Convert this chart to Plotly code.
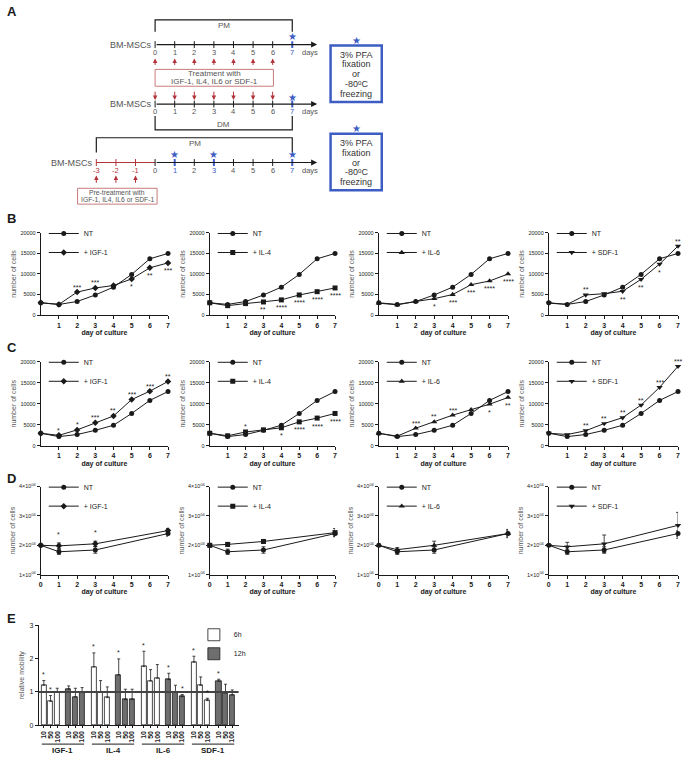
import plotly.graph_objects as go

# ---------------- data ----------------
days = [0, 1, 2, 3, 4, 5, 6, 7]
days_D = [0, 1, 3, 7]
treatments = ["IGF-1", "IL-4", "IL-6", "SDF-1"]
treat_symbols = ["diamond", "square", "triangle-up", "triangle-down"]

# Panel B (proliferation medium)
B_NT = [3000, 2600, 3300, 4900, 6800, 9900, 13700, 15000]
B_IGF1 = [3000, 2600, 5600, 6600, 7200, 8800, 11500, 12700]
B_IL4 = [3000, 2300, 2800, 3200, 3700, 4900, 5700, 6600]
B_IL6 = [2900, 2500, 3300, 4000, 5000, 7400, 8300, 10000]
B_SDF1 = [2900, 2600, 4900, 5200, 5800, 8700, 12400, 16800]
B_stars = [
    [(2, "***", "a"), (3, "***", "a"), (5, "*", "b"), (6, "**", "b"), (7, "***", "b")],
    [(3, "**", "b"), (4, "****", "b"), (5, "****", "b"), (6, "****", "b"), (7, "****", "b")],
    [(3, "*", "b"), (4, "***", "b"), (5, "***", "b"), (6, "****", "b"), (7, "****", "b")],
    [(2, "**", "a"), (4, "**", "b"), (5, "**", "b"), (6, "*", "b"), (7, "**", "a")],
]

# Panel C (differentiation medium)
C_NT = [3000, 2200, 2700, 3700, 4900, 7700, 10800, 12900]
C_IGF1 = [3000, 2500, 3800, 5500, 7100, 11000, 13000, 15300]
C_IL4 = [3000, 2400, 3300, 3800, 4300, 5700, 6600, 7700]
C_IL6 = [3000, 2300, 4200, 5700, 7300, 8600, 9900, 11500]
C_SDF1 = [3000, 2700, 3600, 5300, 6700, 9700, 13900, 18900]
C_stars = [
    [(1, "*", "a"), (2, "*", "a"), (3, "***", "a"), (4, "**", "a"), (5, "***", "a"), (6, "***", "a"), (7, "**", "a")],
    [(2, "*", "a"), (4, "*", "b"), (5, "****", "b"), (6, "****", "b"), (7, "****", "b")],
    [(2, "***", "a"), (3, "**", "a"), (4, "***", "a"), (6, "*", "b"), (7, "**", "b")],
    [(2, "**", "a"), (3, "**", "a"), (4, "**", "a"), (5, "**", "a"), (6, "***", "a"), (7, "***", "a")],
]
BC_ticks = [0, 5000, 10000, 15000, 20000]
BC_ticktext = ["0", "5000", "10000", "15000", "20000"]

# Panel D (pre-treatment)
D_NT = [20000, 17800, 18400, 24000]
D_NT_err = [300, 900, 1100, 900]
D_IGF1 = [20000, 19800, 20500, 25000]
D_IGF1_err = [300, 1000, 900, 700]
D_IL4 = [20000, 20300, 21300, 24300]
D_IL4_err = [300, 600, 500, 1400]
D_IL6 = [20000, 18500, 20000, 24000]
D_IL6_err = [300, 700, 1400, 1400]
D_SDF1 = [20000, 19500, 20500, 26800]
D_SDF1_err = [300, 1500, 3000, 4400]
D_stars = [[(1, "*", "a"), (3, "*", "a")], [], [], []]
D_ticks = [10000, 20000, 30000, 40000]
D_ticktext = ["1×10<sup>04</sup>", "2×10<sup>04</sup>", "3×10<sup>04</sup>", "4×10<sup>04</sup>"]

# Panel E (relative mobility)
doses = ["10", "50", "100"]
E_6h = [[1.20, 0.72, 0.99], [1.75, 0.99, 0.83], [1.76, 1.33, 1.41], [1.89, 1.20, 0.74]]
E_6h_err = [[0.14, 0.17, 0.12], [0.42, 0.35, 0.32], [0.46, 0.34, 0.41], [0.18, 0.25, 0.07]]
E_12h = [[1.09, 0.85, 0.99], [1.51, 0.77, 0.77], [1.37, 0.99, 0.86], [1.32, 0.97, 0.91]]
E_12h_err = [[0.09, 0.26, 0.14], [0.48, 0.31, 0.31], [0.19, 0.21, 0.06], [0.06, 0.26, 0.15]]
E_6h_stars = [["*", "*", ""], ["*", "", ""], ["*", "", ""], ["*", "", "*"]]
E_12h_stars = [["", "", ""], ["*", "", ""], ["*", "", "*"], ["*", "", ""]]

# Panel A schematic
A_days = [0, 1, 2, 3, 4, 5, 6, 7]
A_treat_days = [0, 1, 2, 3, 4, 5, 6]
A_pre_days = [-3, -2, -1]
A_sample_days = [1, 3, 7]
A_box_lines = ["3% PFA", "fixation", "or", "-80ᵒC", "freezing"]

# ---------------- helpers ----------------
W, H = 685, 758
FONT = "Arial, Liberation Sans, sans-serif"
INK = "#1a1a1a"
GREY = "#555555"
BLUE = "#3d5cc4"
RED = "#b3333a"
RED_L = "#c97b7b"


def fx(px):
    return px / W


def fy(px):
    return 1 - px / H


fig = go.Figure()
annotations = []
shapes = []
layout = {}

col_px = [(39, 167), (209, 335), (379, 509), (550, 680)]
row_px = [(231, 314), (361, 446), (487, 576)]

rows = [
    (B_NT, [B_IGF1, B_IL4, B_IL6, B_SDF1], None, None, B_stars),
    (C_NT, [C_IGF1, C_IL4, C_IL6, C_SDF1], None, None, C_stars),
    (D_NT, [D_IGF1, D_IL4, D_IL6, D_SDF1], D_NT_err, [D_IGF1_err, D_IL4_err, D_IL6_err, D_SDF1_err], D_stars),
]

for r, (nt, treated, nt_err, tr_err, stars) in enumerate(rows):
    for c in range(4):
        k = r * 4 + c + 1
        sfx = "" if k == 1 else str(k)
        xs = days if r < 2 else days_D
        leg = "legend" + sfx
        for name, ys, sym, err in [
            ("NT", nt, "circle", nt_err),
            ("+ " + treatments[c], treated[c], treat_symbols[c], tr_err[c] if tr_err else None),
        ]:
            tr = dict(
                x=xs, y=ys, mode="lines+markers", name=name,
                xaxis="x" + sfx, yaxis="y" + sfx, legend=leg,
                line=dict(color=INK, width=1),
                marker=dict(symbol=sym, size=5.5 if "triangle" in sym else 5, color=INK),
                cliponaxis=False,
            )
            if err is not None:
                tr["error_y"] = dict(type="data", array=err, thickness=0.8, width=2, color=INK)
            fig.add_trace(go.Scatter(**tr))
        for d, txt, pos in stars[c]:
            idx = xs.index(d)
            yv = treated[c][idx]
            if r == 2:
                shift = 11
            else:
                shift = 5 if pos == "a" else -8
            annotations.append(dict(
                x=d, y=yv, xref="x" + sfx, yref="y" + sfx, text=txt, showarrow=False,
                yshift=shift, font=dict(size=7, color=INK, family=FONT)))
        x0, x1 = col_px[c]
        y0, y1 = row_px[r]
        if r < 2:
            yr = [0, 20000]
            yt = dict(tickvals=BC_ticks, ticktext=BC_ticktext)
            xt = days[1:]
        else:
            yr = [10000, 40000]
            yt = dict(tickvals=D_ticks, ticktext=D_ticktext)
            xt = days
        layout["xaxis" + sfx] = dict(
            domain=[fx(x0), fx(x1)], range=[0, 7], anchor="y" + sfx,
            showline=True, linecolor=INK, linewidth=1, ticks="outside", ticklen=3,
            tickcolor=INK, tickvals=xt, showgrid=False, zeroline=False,
            ticklabeloverflow="allow",
            tickfont=dict(size=7, color=INK, family=FONT, weight="bold"),
            title=dict(text="day of culture", standoff=2,
                       font=dict(size=7, color=INK, family=FONT, weight="bold")),
        )
        layout["yaxis" + sfx] = dict(
            domain=[fy(y1), fy(y0)], range=yr, anchor="x" + sfx,
            showline=True, linecolor=INK, linewidth=1, ticks="outside", ticklen=3,
            tickcolor=INK, showgrid=False, zeroline=False,
            tickfont=dict(size=5.5, color=INK, family=FONT),
            title=dict(text="number of cells", standoff=2,
                       font=dict(size=7, color=GREY, family=FONT)),
            **yt,
        )
        layout[leg] = dict(
            x=fx(x0 + 3), y=fy(y0 - 14), xanchor="left", yanchor="top",
            bgcolor="rgba(0,0,0,0)", font=dict(size=7, color=INK, family=FONT),
            itemwidth=30, tracegroupgap=0,
        )

# ---------------- panel E ----------------
E_pos = []
E_ticktext = []
for f in range(4):
    for t in range(2):
        for d in range(3):
            E_pos.append(f * 7.45 + t * 3.7 + d)
            E_ticktext.append(doses[d])

pos6 = [f * 7.45 + d for f in range(4) for d in range(3)]
pos12 = [f * 7.45 + 3.7 + d for f in range(4) for d in range(3)]
v6 = [v for row in E_6h for v in row]
e6 = [v for row in E_6h_err for v in row]
v12 = [v for row in E_12h for v in row]
e12 = [v for row in E_12h_err for v in row]

fig.add_trace(go.Bar(
    x=pos6, y=v6, name="6h", width=0.75, xaxis="x13", yaxis="y13", legend="legend13",
    marker=dict(color="white", line=dict(color=INK, width=0.8)),
    error_y=dict(type="data", array=e6, arrayminus=[0] * len(e6), symmetric=False,
                 thickness=0.8, width=1.5, color=INK)))
fig.add_trace(go.Bar(
    x=pos12, y=v12, name="12h", width=0.75, xaxis="x13", yaxis="y13", legend="legend13",
    marker=dict(color="#6e6e6e", line=dict(color=INK, width=0.8)),
    error_y=dict(type="data", array=e12, arrayminus=[0] * len(e12), symmetric=False,
                 thickness=0.8, width=1.5, color=INK)))

for f in range(4):
    for d in range(3):
        for pos_list, vals, errs, st in [(pos6, E_6h, E_6h_err, E_6h_stars), (pos12, E_12h, E_12h_err, E_12h_stars)]:
            if st[f][d]:
                annotations.append(dict(
                    x=pos_list[f * 3 + d], y=vals[f][d] + errs[f][d], xref="x13", yref="y13",
                    text=st[f][d], showarrow=False, yshift=6,
                    font=dict(size=7, color=INK, family=FONT)))
    g0 = f * 7.45 - 0.3
    g1 = f * 7.45 + 5.7 + 0.3
    shapes.append(dict(type="line", xref="x13", yref="paper", x0=g0, x1=g1,
                       y0=fy(747), y1=fy(747), line=dict(color=INK, width=1)))
    annotations.append(dict(x=(g0 + g1) / 2, y=fy(753.5), xref="x13", yref="paper",
                            text=treatments[f], showarrow=False, yanchor="middle",
                            font=dict(size=8, color=INK, family=FONT, weight="bold")))

shapes.append(dict(type="line", xref="x13 domain", yref="y13", x0=0, x1=1, y0=1, y1=1,
                   line=dict(color="#444444", width=2)))

layout["xaxis13"] = dict(
    domain=[fx(37), fx(238)], range=[-0.75, 29], anchor="y13",
    showline=True, linecolor=INK, linewidth=1, ticks="outside", ticklen=2, tickcolor=INK,
    tickvals=E_pos, ticktext=E_ticktext, tickangle=-90, showgrid=False, zeroline=False,
    tickfont=dict(size=7, color=INK, family=FONT, weight="bold"))
layout["yaxis13"] = dict(
    domain=[fy(728), fy(627)], range=[0, 3], anchor="x13",
    showline=True, linecolor=INK, linewidth=1, ticks="outside", ticklen=3, tickcolor=INK,
    tickvals=[0, 1, 2, 3], showgrid=False, zeroline=False,
    tickfont=dict(size=7, color=INK, family=FONT),
    title=dict(text="relative mobility", standoff=4, font=dict(size=7, color=GREY, family=FONT)))
layout["legend13"] = dict(
    x=fx(193), y=fy(622), xanchor="left", yanchor="top", bgcolor="rgba(0,0,0,0)",
    font=dict(size=7, color=INK, family=FONT), itemwidth=30, tracegroupgap=0)

# ---------------- panel A (schematic) ----------------
PXD = 19.71
DAY0 = 154.0
layout["xaxis14"] = dict(domain=[0, fx(400)], range=[(0 - DAY0) / PXD, (400 - DAY0) / PXD],
                         visible=False, anchor="y14", fixedrange=True)
layout["yaxis14"] = dict(domain=[fy(212), 1], range=[212, 0], visible=False, anchor="x14",
                         fixedrange=True)


def A_ann(x, y, text, size=8, color=GREY, **kw):
    d = dict(x=x, y=y, xref="x14", yref="y14", text=text, showarrow=False,
             font=dict(size=size, color=color, family=FONT))
    d.update(kw)
    annotations.append(d)


def A_line(x0, y0, x1, y1, color=INK, width=1):
    shapes.append(dict(type="line", xref="x14", yref="y14", x0=x0, y0=y0, x1=x1, y1=y1,
                       line=dict(color=color, width=width)))


def A_arrow(x, y_tail, y_head, color):
    annotations.append(dict(x=x, y=y_head, ax=x, ay=y_tail, xref="x14", yref="y14",
                            axref="x14", ayref="y14", text="", showarrow=True,
                            arrowhead=2, arrowsize=0.9, arrowwidth=1, arrowcolor=color))


END = (317 - DAY0) / PXD
STAR = "★"


def timeline(T, start):
    A_line(start, T, 0, T, color=RED if start < 0 else INK, width=1.2)
    annotations.append(dict(x=END, y=T, ax=0, ay=T, xref="x14", yref="y14", axref="x14",
                            ayref="y14", text="", showarrow=True, arrowhead=2,
                            arrowsize=1, arrowwidth=1.2, arrowcolor=INK))
    A_ann((309.5 - DAY0) / PXD, T + 8, "days", size=7.5)


T1, T2, T3 = 41, 101, 160
for T in (T1, T2):
    timeline(T, 0)
    A_ann(-0.12, T, "BM-MSCs", size=9, xanchor="right")
    for d in A_days:
        blue = d == 7
        A_line(d, T - 3.5, d, T + 3.5, color=BLUE if blue else INK, width=2 if blue else 1)
        A_ann(d, T + 8, str(d), size=7.5, color=BLUE if blue else GREY)
    A_ann(7, T - 8 if T == T1 else T - 7, STAR, size=10, color=BLUE)

shapes.append(dict(type="path", xref="x14", yref="y14", path="M 0,28 L 0,16 L 7,16 L 7,28",
                   line=dict(color=INK, width=1.2)))
A_ann(3.5, 22, "PM", size=8)
shapes.append(dict(type="path", xref="x14", yref="y14", path="M 0,113 L 0,127 L 7,127 L 7,113",
                   line=dict(color=INK, width=1.2)))
A_ann(3.5, 121.5, "DM", size=8)

for d in A_treat_days:
    A_arrow(d, 63, 55, RED)
    A_arrow(d, 87, 97, RED)

tb1 = (273 - DAY0) / PXD
shapes.append(dict(type="rect", xref="x14", yref="y14", x0=0, x1=tb1,
                   y0=66, y1=83, line=dict(color=RED_L, width=1)))
A_ann(tb1 / 2, 70.5, "Treatment with", size=8)
A_ann(tb1 / 2, 78.5, "IGF-1, IL4, IL6 or SDF-1", size=8)

timeline(T3, -3)
A_ann(-3.12, T3, "BM-MSCs", size=9, xanchor="right")
for d in A_pre_days + A_days:
    if d < 0:
        col, wd = RED, 1
    elif d in A_sample_days:
        col, wd = BLUE, 2
    else:
        col, wd = INK, 1
    A_line(d, T3 - 3.5, d, T3 + 3.5, color=col, width=wd)
    A_ann(d, T3 + 8, str(d), size=7.5, color=col if col != INK else GREY)
for d in A_sample_days:
    A_ann(d, T3 - 8, STAR, size=10, color=BLUE)
shapes.append(dict(type="path", xref="x14", yref="y14", path="M -3,150 L -3,135 L 7,135 L 7,150",
                   line=dict(color=INK, width=1.2)))
A_ann((194 - DAY0) / PXD, 141, "PM", size=8)
for d in A_pre_days:
    A_arrow(d, 182, 173, RED)
px0, px1 = (76 - DAY0) / PXD, (156 - DAY0) / PXD
shapes.append(dict(type="rect", xref="x14", yref="y14", x0=px0, x1=px1, y0=186, y1=202,
                   line=dict(color=RED_L, width=1)))
A_ann((px0 + px1) / 2, 190.3, "Pre-treatment with", size=6.8)
A_ann((px0 + px1) / 2, 197.5, "IGF-1, IL4, IL6 or SDF-1", size=6.8)

for (ya, yb) in [(42, 99), (131, 188)]:
    bx0, bx1 = (330.5 - DAY0) / PXD, (382 - DAY0) / PXD
    shapes.append(dict(type="rect", xref="x14", yref="y14", x0=bx0, x1=bx1, y0=ya, y1=yb,
                       line=dict(color=BLUE, width=2.5)))
    ys_lines = [ya + 9, ya + 19, ya + 29, ya + 39, ya + 49]
    for txt, yl in zip(A_box_lines, ys_lines):
        A_ann((bx0 + bx1) / 2, yl, txt, size=9, color="#333333")
    A_ann((bx0 + bx1) / 2, ya - 5, STAR, size=10, color=BLUE)

for letter, (lx, ly) in {"A": (3, 8), "B": (3, 217), "C": (3, 347), "D": (3, 479), "E": (3, 620)}.items():
    annotations.append(dict(x=fx(lx), y=fy(ly), xref="paper", yref="paper", text=letter,
                            showarrow=False, xanchor="left", yanchor="middle",
                            font=dict(size=13, color=INK, family=FONT, weight="bold")))

fig.update_layout(
    width=W, height=H, autosize=False,
    margin=dict(l=0, r=0, t=0, b=0),
    paper_bgcolor="white", plot_bgcolor="white",
    font=dict(family=FONT, color=INK),
    showlegend=True, bargap=0,
    annotations=annotations, shapes=shapes,
    **layout,
)

fig.write_html("out.html", config={"displayModeBar": False},
               post_script="document.body.style.margin='0px';document.body.style.overflow='hidden';")
